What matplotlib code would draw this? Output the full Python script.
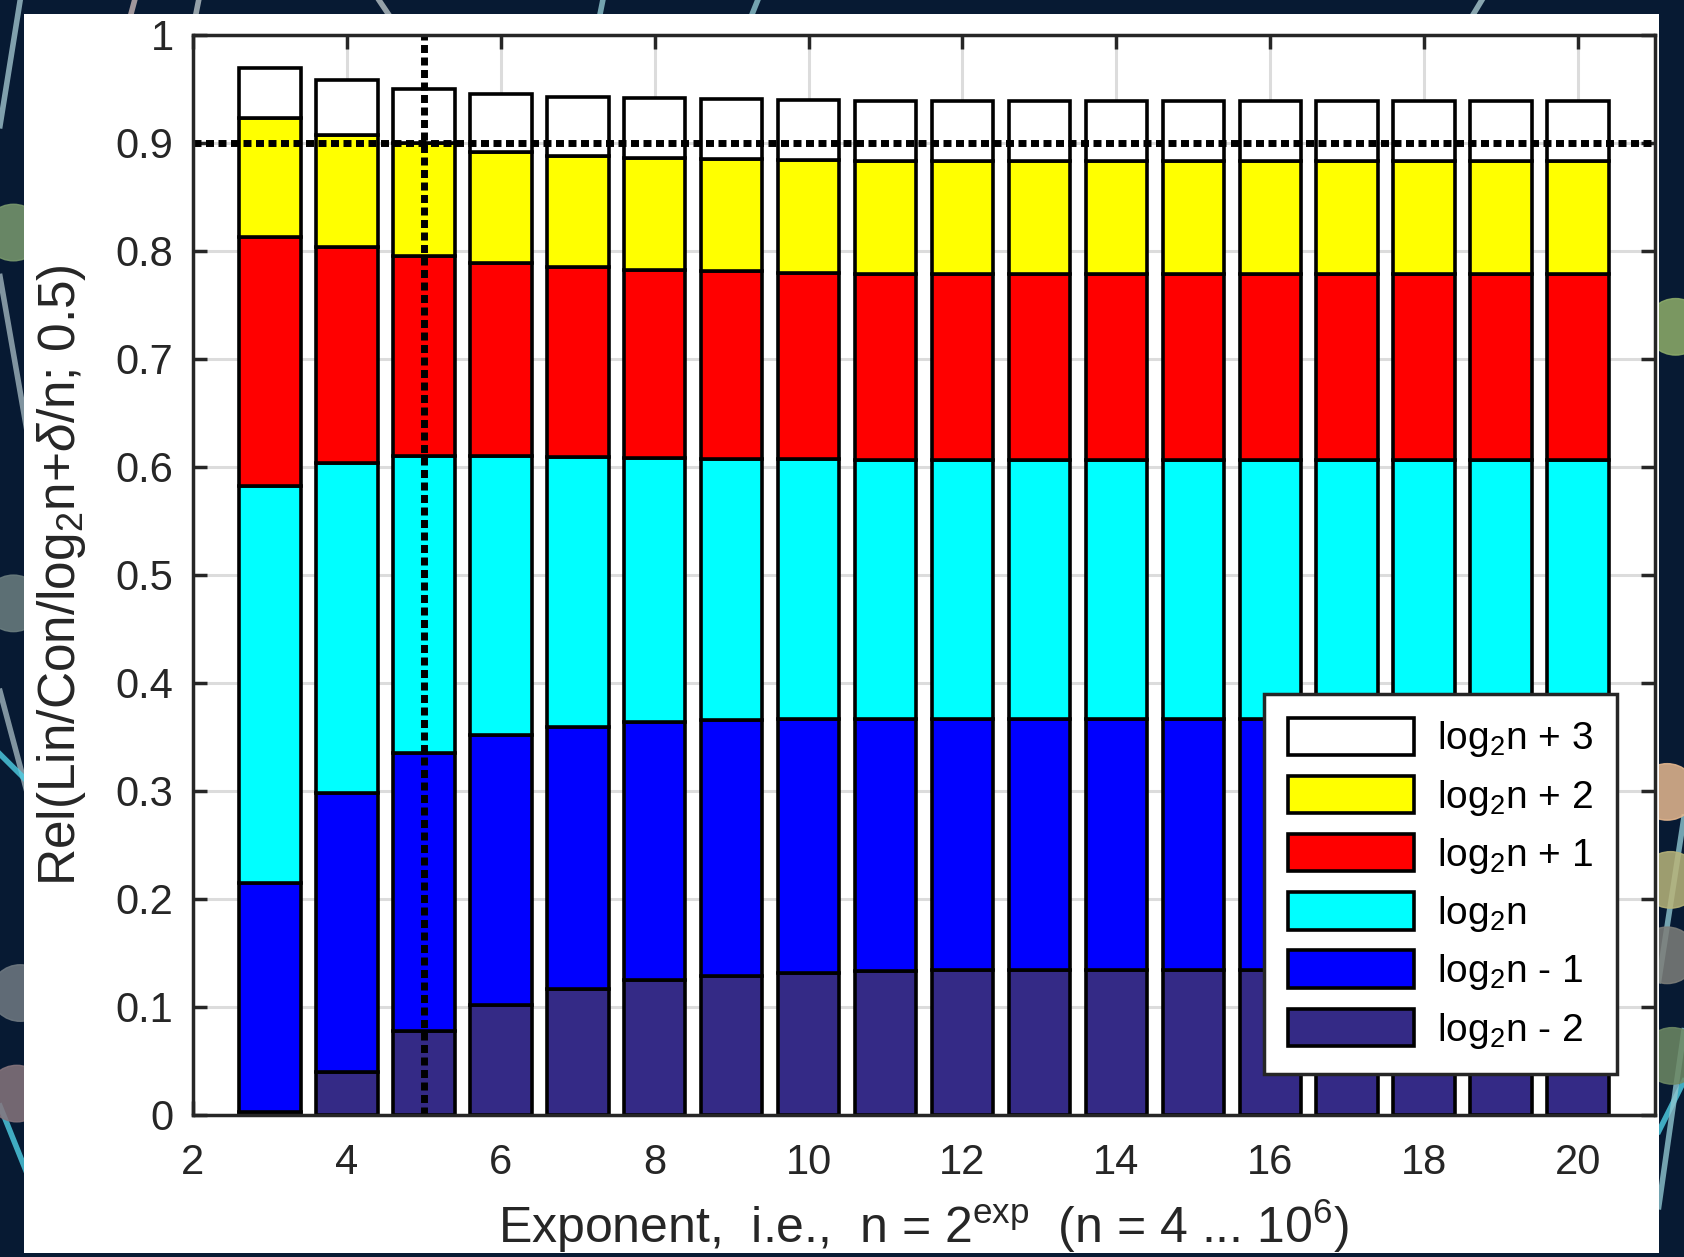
import matplotlib
matplotlib.use("Agg")
import matplotlib.pyplot as plt
import numpy as np
from matplotlib.lines import Line2D
from matplotlib.patches import Rectangle, Ellipse

plt.rcParams["font.family"] = ["Liberation Sans", "DejaVu Sans"]
plt.rcParams["mathtext.fontset"] = "custom"
plt.rcParams["mathtext.rm"] = "Liberation Sans"
plt.rcParams["mathtext.it"] = "Liberation Sans:italic"

# exponent of n = 2^exp
exponents = np.arange(3, 21)

# share of each distance class, bottom layer first
share_minus2 = [0.003, 0.040, 0.078, 0.102, 0.117, 0.125, 0.129, 0.131, 0.133,
                0.134, 0.134, 0.134, 0.134, 0.134, 0.134, 0.134, 0.134, 0.134]
share_minus1 = [0.212, 0.258, 0.257, 0.250, 0.242, 0.239, 0.237, 0.236, 0.234,
                0.233, 0.233, 0.233, 0.233, 0.233, 0.233, 0.233, 0.233, 0.233]
share_log = [0.367, 0.306, 0.275, 0.258, 0.250, 0.244, 0.241, 0.240, 0.239,
             0.239, 0.239, 0.239, 0.239, 0.239, 0.239, 0.239, 0.239, 0.239]
share_plus1 = [0.231, 0.200, 0.185, 0.179, 0.176, 0.174, 0.174, 0.173, 0.173,
               0.173, 0.173, 0.173, 0.173, 0.173, 0.173, 0.173, 0.173, 0.173]
share_plus2 = [0.110, 0.103, 0.105, 0.103, 0.103, 0.104, 0.104, 0.104, 0.104,
               0.104, 0.104, 0.104, 0.104, 0.104, 0.104, 0.104, 0.104, 0.104]
share_plus3 = [0.046, 0.051, 0.050, 0.053, 0.055, 0.056, 0.056, 0.056, 0.056,
               0.056, 0.056, 0.056, 0.056, 0.056, 0.056, 0.056, 0.056, 0.056]

layers = [share_minus2, share_minus1, share_log, share_plus1, share_plus2, share_plus3]
layer_labels = ["log$_2$n - 2", "log$_2$n - 1", "log$_2$n",
                "log$_2$n + 1", "log$_2$n + 2", "log$_2$n + 3"]
layer_colors = ["#342a86", "#0000ff", "#00ffff", "#ff0000", "#ffff00", "#ffffff"]

threshold = 0.9
marked_exponent = 5

fig = plt.figure(figsize=(16.84, 12.57), dpi=100)
fig.patch.set_facecolor("#071a33")

# decorative network lines and nodes around the panel
deco_lines = [
    ((0.000, 0.012), (0.90, 1.00), "#9fc3cc"),
    ((0.072, 0.080), (0.96, 1.00), "#c9b7b7"),
    ((0.112, 0.118), (0.96, 1.00), "#b9c4c8"),
    ((0.225, 0.245), (1.00, 0.96), "#b9c4c8"),
    ((0.352, 0.358), (0.96, 1.00), "#8fc6d0"),
    ((0.438, 0.450), (0.96, 1.00), "#8fc6d0"),
    ((0.862, 0.880), (0.96, 1.00), "#a9c9cf"),
    ((0.000, 0.030), (0.78, 0.55), "#9fb4bc"),
    ((0.000, 0.030), (0.45, 0.30), "#9fb4bc"),
    ((0.000, 0.030), (0.40, 0.36), "#4fd0e6"),
    ((0.000, 0.030), (0.12, 0.02), "#4fd0e6"),
    ((0.985, 1.000), (0.22, 0.35), "#8fc6d0"),
    ((0.985, 1.000), (0.10, 0.14), "#4fd0e6"),
    ((0.985, 1.000), (0.04, 0.18), "#8fc6d0"),
]
for xs, ys, col in deco_lines:
    fig.add_artist(Line2D(xs, ys, transform=fig.transFigure, color=col,
                          lw=4, alpha=0.8, zorder=0))
deco_nodes = [
    (0.008, 0.815, "#7a9a6e"), (0.008, 0.52, "#6c7f80"), (0.012, 0.21, "#707a82"),
    (0.010, 0.13, "#87757d"), (0.995, 0.74, "#8fae6a"), (0.990, 0.37, "#e7b98f"),
    (0.992, 0.30, "#b9b57a"), (0.990, 0.24, "#7e7f7a"), (0.993, 0.16, "#6e8a64"),
]
for cx, cy, col in deco_nodes:
    fig.add_artist(Ellipse((cx, cy), 0.035, 0.045, transform=fig.transFigure,
                           color=col, alpha=0.85, zorder=0))
fig.add_artist(Rectangle((0.0143, 0.0032), 0.9709, 0.9857, transform=fig.transFigure,
                         facecolor="white", edgecolor="none", zorder=0.5))

ax = fig.add_axes([0.1146, 0.1130, 0.8682, 0.8592])
ax.set_zorder(2)
ax.set_facecolor("white")

bottom = np.zeros(len(exponents))
handles = []
for values, label, color in zip(layers, layer_labels, layer_colors):
    bars = ax.bar(exponents, values, width=0.8, bottom=bottom, color=color,
                  edgecolor="black", linewidth=2.6, label=label, zorder=2)
    handles.append(bars)
    bottom = bottom + np.asarray(values)

dot_style = (0, (1.15, 0.65))
ax.axhline(threshold, color="black", lw=5, linestyle=dot_style, zorder=4)
ax.plot([marked_exponent, marked_exponent], [0, 1], color="black", lw=5,
        linestyle=dot_style, zorder=4)

ax.set_xlim(2, 21)
ax.set_ylim(0, 1)
ax.set_xticks(np.arange(2, 21, 2))
ax.set_yticks(np.arange(0, 1.01, 0.1))
ax.set_yticklabels(["0", "0.1", "0.2", "0.3", "0.4", "0.5", "0.6", "0.7", "0.8", "0.9", "1"])
ax.grid(True, color="#dcdcdc", lw=2.2)
ax.set_axisbelow(True)
ax.tick_params(direction="in", length=10, width=2.5, color="#262626",
               top=True, right=True, labelsize=30, labelcolor="#262626")
ax.tick_params(axis="x", pad=20)
ax.tick_params(axis="y", pad=14)
for spine in ax.spines.values():
    spine.set_color("#262626")
    spine.set_linewidth(2.5)
    spine.set_zorder(5)

ax.set_xlabel("Exponent,  i.e.,  n = 2$^{\\rm exp}$  (n = 4 ... 10$^6$)",
              fontsize=36, color="#262626", labelpad=10)
ax.set_ylabel("Rel(Lin/Con/log$_2$n+$\\delta$/n; 0.5)", fontsize=37,
              color="#262626", labelpad=20)

leg = ax.legend(handles[::-1], layer_labels[::-1], loc="lower right",
                bbox_to_anchor=(0.974, 0.038), borderaxespad=0, fontsize=28,
                frameon=True, fancybox=False, framealpha=1, edgecolor="#262626",
                handlelength=3.25, handleheight=1.1, labelspacing=0.42,
                handletextpad=0.6, borderpad=0.6)
leg.get_frame().set_linewidth(2.5)
leg.set_zorder(6)

fig.savefig("out.png", dpi=100, facecolor=fig.get_facecolor())
